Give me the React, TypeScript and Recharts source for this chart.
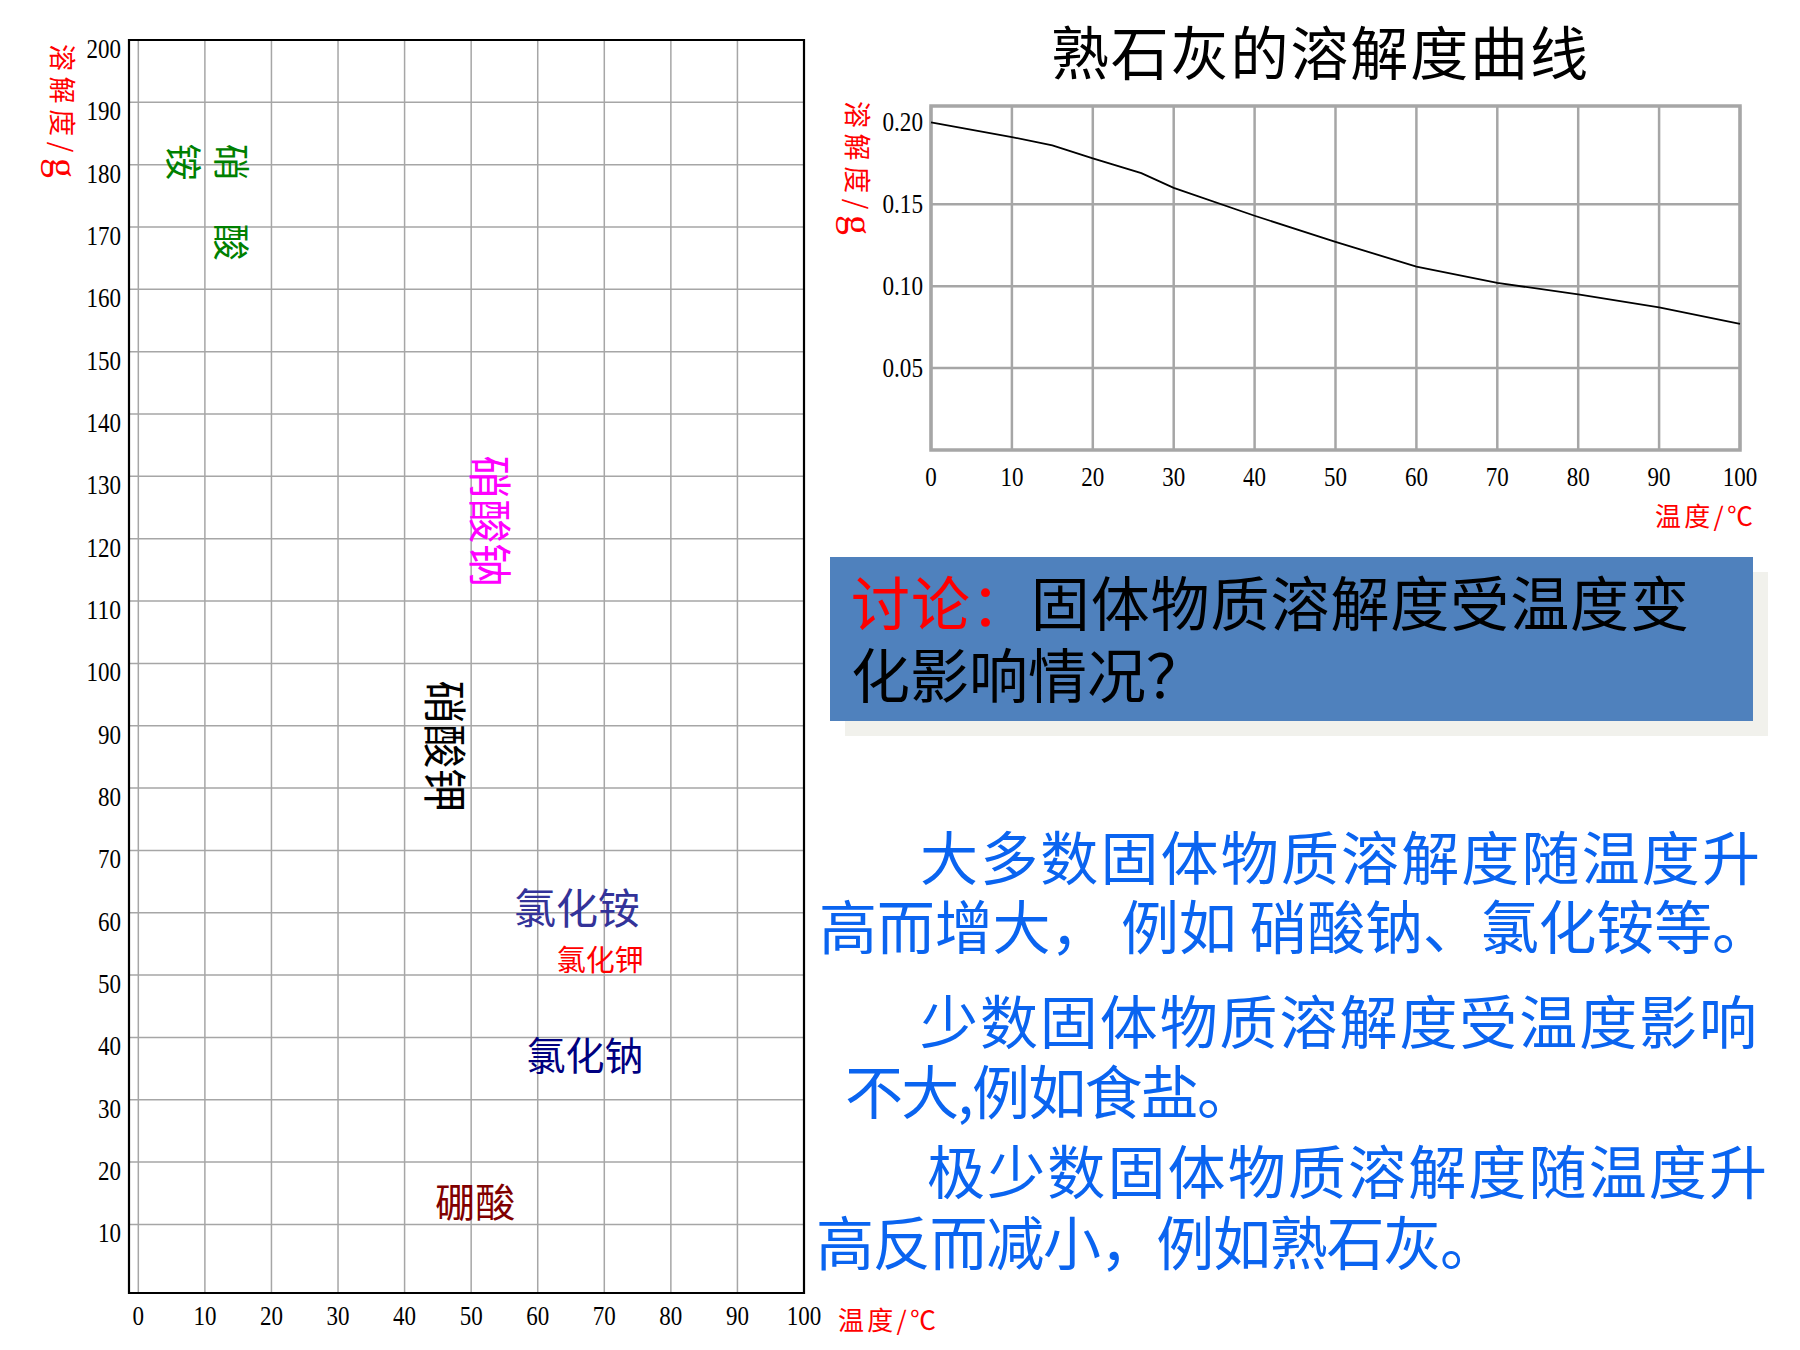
import React from 'react'
import {
  ScatterChart,
  Scatter,
  LineChart,
  Line,
  XAxis,
  YAxis,
  CartesianGrid,
  ReferenceArea,
  ReferenceLine,
} from 'recharts'

// left chart: solubility grid, only the substance names are shown
const tempTicks = [0, 10, 20, 30, 40, 50, 60, 70, 80, 90, 100]
const solTicks = [10, 20, 30, 40, 50, 60, 70, 80, 90, 100, 110, 120, 130, 140, 150, 160, 170, 180, 190, 200]

const substanceNames = ['硝酸铵', '硝酸钠', '硝酸钾', '氯化铵', '氯化钾', '氯化钠', '硼酸']
const nameTemps = [14.2, 53.1, 46.4, 65.9, 69.4, 67.1, 50.6]
const nameSols = [180.4, 122.8, 86.7, 61.1, 52.7, 37.5, 13.9]

// right chart: 熟石灰 (slaked lime)
const limeTemps = [0, 10, 15, 20, 26, 30, 40, 50, 60, 70, 80, 90, 100]
const limeSol = [0.2, 0.191, 0.186, 0.178, 0.169, 0.16, 0.143, 0.127, 0.112, 0.102, 0.095, 0.087, 0.077]
const limeTicksY = [0.05, 0.1, 0.15, 0.2]
const limeGridY = [0.05, 0.1, 0.15]

const SERIF = "'Liberation Serif', 'Times New Roman', serif"
const CJK = "'Noto Sans CJK SC', 'Noto Sans', sans-serif"
const BLUE = '#0a64f0'

const NAME_STYLE: Record<string, { color: string; size: number; vertical?: boolean }> = {
  硝酸铵: { color: '#008000', size: 37, vertical: true },
  硝酸钠: { color: '#ff00ff', size: 44, vertical: true },
  硝酸钾: { color: '#000000', size: 44, vertical: true },
  氯化铵: { color: '#333399', size: 42 },
  氯化钾: { color: '#ff0000', size: 29 },
  氯化钠: { color: '#000080', size: 39 },
  硼酸: { color: '#800000', size: 40 },
}

const nameData = substanceNames.map((name, i) => ({ name, t: nameTemps[i], s: nameSols[i] }))
const limeData = limeTemps.map((t, i) => ({ t, s: limeSol[i] }))

// the slide's numbers are a narrow serif; squeeze the glyphs a little
const numWidth = (s: string) => s.split('').reduce((w, c) => w + (c === '.' ? 6 : 11.5), 0)

function NumText({ x, y, anchor, label }: { x: number; y: number; anchor: 'start' | 'middle' | 'end'; label: string }) {
  return (
    <text
      x={x}
      y={y}
      textAnchor={anchor}
      dominantBaseline="central"
      fontFamily={SERIF}
      fontSize={27}
      fill="#000"
      textLength={numWidth(label)}
      lengthAdjust="spacingAndGlyphs"
    >
      {label}
    </text>
  )
}

function NameShape(props: any) {
  const { cx, cy, payload } = props
  const st = NAME_STYLE[payload.name]
  const common = {
    fill: st.color,
    fontSize: st.size,
    fontFamily: CJK,
    textAnchor: 'middle' as const,
    dominantBaseline: 'central' as const,
  }
  if (payload.name === '硝酸铵') {
    // text box wrapped in two lines and turned a quarter clockwise
    return (
      <g transform={`rotate(90 ${cx} ${cy})`}>
        <text x={cx} y={cy} {...common}>硝</text>
        <text x={cx + 80} y={cy} {...common}>酸</text>
        <text x={cx} y={cy + 48} {...common}>铵</text>
      </g>
    )
  }
  return (
    <text
      x={cx}
      y={cy}
      {...common}
      transform={st.vertical ? `rotate(90 ${cx} ${cy})` : undefined}
    >
      {payload.name}
    </text>
  )
}

function LeftYTick({ x, y, payload }: any) {
  return <NumText x={x} y={y + 9} anchor="end" label={String(payload.value)} />
}

function LeftXTick({ x, y, payload }: any) {
  return <NumText x={x} y={y + 15} anchor="middle" label={String(payload.value)} />
}

function RightYTick({ x, y, payload }: any) {
  return <NumText x={x} y={y} anchor="end" label={payload.value.toFixed(2)} />
}

function RightXTick({ x, y, payload }: any) {
  return <NumText x={x} y={y + 19} anchor="middle" label={String(payload.value)} />
}

function AxisTitleY({ x, y, len }: { x: number; y: number; len: number }) {
  return (
    <text
      x={x}
      y={y}
      transform={`rotate(90 ${x} ${y})`}
      dominantBaseline="central"
      fill="#ff0000"
      fontFamily={CJK}
      textLength={len}
      lengthAdjust="spacing"
    >
      <tspan fontSize={27}>溶解度/</tspan>
      <tspan fontSize={40} fontFamily={SERIF}>g</tspan>
    </text>
  )
}

export default function App() {
  return (
    <div style={{ position: 'absolute', left: 0, top: 0, width: 1800, height: 1350, background: '#fff', overflow: 'hidden' }}>
      {/* left: solubility grid */}
      <div style={{ position: 'absolute', left: 0, top: 0 }}>
        <ScatterChart width={840} height={1350} margin={{ top: 40, right: 36, left: 0, bottom: 7 }}>
          <CartesianGrid stroke="#a6a6a6" strokeWidth={1.5} />
          <XAxis
            type="number"
            dataKey="t"
            domain={[-1.4, 100]}
            allowDataOverflow
            ticks={tempTicks}
            height={50}
            axisLine={false}
            tickLine={false}
            tickSize={8}
            tickMargin={0}
            tick={<LeftXTick />}
            interval={0}
          />
          <YAxis
            type="number"
            dataKey="s"
            domain={[-1, 200]}
            allowDataOverflow
            ticks={solTicks}
            width={129}
            axisLine={false}
            tickLine={false}
            tickSize={8}
            tickMargin={0}
            tick={<LeftYTick />}
            interval={0}
          />
          <ReferenceArea x1={-1.4} x2={100} y1={-1} y2={200} fill="none" stroke="#000" strokeWidth={2.2} />
          <Scatter data={nameData} shape={<NameShape />} isAnimationActive={false} />
        </ScatterChart>
      </div>

      {/* right: slaked lime curve */}
      <div style={{ position: 'absolute', left: 800, top: 60 }}>
        <LineChart width={1000} height={480} data={limeData} margin={{ top: 46, right: 60, left: 0, bottom: 40 }}>
          <CartesianGrid stroke="#a6a6a6" strokeWidth={2.5} horizontal={false} />
          <XAxis
            type="number"
            dataKey="t"
            domain={[0, 100]}
            ticks={tempTicks}
            height={50}
            axisLine={false}
            tickLine={false}
            tickSize={8}
            tickMargin={0}
            tick={<RightXTick />}
            interval={0}
          />
          <YAxis
            type="number"
            domain={[0, 0.21]}
            allowDataOverflow
            ticks={limeTicksY}
            width={131}
            axisLine={false}
            tickLine={false}
            tickSize={8}
            tickMargin={0}
            tick={<RightYTick />}
            interval={0}
          />
          {limeGridY.map((v) => (
            <ReferenceLine key={v} y={v} stroke="#a6a6a6" strokeWidth={2.5} />
          ))}
          <ReferenceArea x1={0} x2={100} y1={0} y2={0.21} fill="none" stroke="#a6a6a6" strokeWidth={3.5} />
          <Line type="linear" dataKey="s" stroke="#000" strokeWidth={1.8} dot={false} isAnimationActive={false} />
        </LineChart>
      </div>

      {/* slide text */}
      <svg width={1800} height={1350} style={{ position: 'absolute', left: 0, top: 0, pointerEvents: 'none' }}>
        <AxisTitleY x={64} y={44} len={134} />
        <text x={838} y={1318} dominantBaseline="central" fill="#ff0000" fontFamily={CJK} fontSize={26} textLength={98} lengthAdjust="spacing">
          温度/℃
        </text>

        <text x={1051} y={50} dominantBaseline="central" fill="#000" fontFamily={CJK} fontSize={58} textLength={537} lengthAdjust="spacing">
          熟石灰的溶解度曲线
        </text>
        <AxisTitleY x={859} y={101} len={134} />
        <text x={1655} y={514} dominantBaseline="central" fill="#ff0000" fontFamily={CJK} fontSize={26} textLength={98} lengthAdjust="spacing">
          温度/℃
        </text>

        <rect x={845} y={572} width={923} height={164} fill="#f1f1ec" />
        <rect x={830} y={557} width={923} height={164} fill="#4f81bd" />
        <text x={851} y={600} dominantBaseline="central" fontFamily={CJK} fontSize={59} textLength={838} lengthAdjust="spacing">
          <tspan fill="#ff0000">讨论：</tspan>
          <tspan fill="#000">固体物质溶解度受温度变</tspan>
        </text>
        <text x={851} y={672} dominantBaseline="central" fill="#000" fontFamily={CJK} fontSize={59}>
          化影响情况？
        </text>

        <g fill={BLUE} fontFamily={CJK} fontSize={58}>
          <text x={920} y={855} dominantBaseline="central" textLength={840} lengthAdjust="spacing">大多数固体物质溶解度随温度升</text>
          <text x={819} y={924} dominantBaseline="central" textLength={951} lengthAdjust="spacing">高而增大， 例如 硝酸钠、氯化铵等。</text>
          <text x={920} y={1019} dominantBaseline="central" textLength={837} lengthAdjust="spacing">少数固体物质溶解度受温度影响</text>
          <text x={845} y={1089} dominantBaseline="central" textLength={410} lengthAdjust="spacing">不大,例如食盐。</text>
          <text x={927} y={1169} dominantBaseline="central" textLength={840} lengthAdjust="spacing">极少数固体物质溶解度随温度升</text>
          <text x={816} y={1240} dominantBaseline="central" textLength={682} lengthAdjust="spacing">高反而减小，例如熟石灰。</text>
        </g>
      </svg>
    </div>
  )
}
